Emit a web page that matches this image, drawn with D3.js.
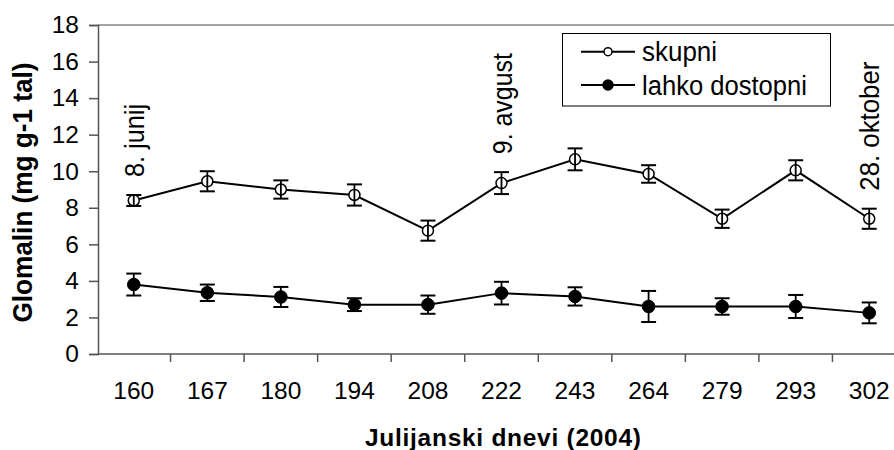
<!DOCTYPE html>
<html>
<head>
<meta charset="utf-8">
<script src="https://cdn.jsdelivr.net/npm/d3@7/dist/d3.min.js"></script>
<style>
  html, body { margin: 0; padding: 0; background: #fff; }
  svg { display: block; }
  text { font-family: "Liberation Sans", Arial, sans-serif; }
</style>
</head>
<body>
<svg id="chart" width="894" height="450"></svg>
<script>
const categories = ["160","167","180","194","208","222","243","264","279","293","302"];
const skupni     = [8.4, 9.45, 9.0, 8.7, 6.75, 9.35, 10.65, 9.85, 7.4, 10.05, 7.4];
const skupniErr  = [0.3, 0.55, 0.5, 0.58, 0.55, 0.6, 0.6, 0.48, 0.5, 0.55, 0.55];
const lahko      = [3.8, 3.35, 3.12, 2.7, 2.7, 3.33, 3.15, 2.6, 2.6, 2.6, 2.25];
const lahkoErr   = [0.6, 0.45, 0.55, 0.35, 0.5, 0.62, 0.5, 0.85, 0.45, 0.63, 0.57];
const yTicks     = [0, 2, 4, 6, 8, 10, 12, 14, 16, 18];
const annotIdx   = [0, 5, 10];
const annotText  = ["8. junij", "9. avgust", "28. oktober"];
const seriesNames = ["skupni", "lahko dostopni"];
const yTitle = "Glomalin (mg g-1 tal)";
const xTitle = "Julijanski dnevi (2004)";

(function () {
const FONT = "'Liberation Sans', Arial, sans-serif";
const svg = d3.select("#chart");
const mLeft = 98, mTop = 25, mBottom = 354;

const x = d3.scaleBand().domain(categories).range([97, 906]).padding(0);
const y = d3.scaleLinear().domain([0, 18]).range([mBottom, mTop]);
const cx = c => x(c) + x.bandwidth() / 2;

// helper: fit text to a target length measured on the reference
function fit(sel, len, adjust) {
  sel.attr("textLength", len).attr("lengthAdjust", adjust || "spacingAndGlyphs");
  return sel;
}

// top border of plot area
svg.append("line").attr("x1", mLeft).attr("x2", 894).attr("y1", y(18)).attr("y2", y(18))
  .attr("stroke", "#888").attr("stroke-width", 1.5);

// Y axis
const yAxis = svg.append("g").attr("transform", `translate(${mLeft},0)`)
  .call(d3.axisLeft(y).tickValues(yTicks).tickSize(9).tickPadding(10).tickFormat(d3.format("d")));
yAxis.attr("font-family", FONT);
yAxis.select(".domain").attr("stroke", "#555").attr("stroke-width", 1.5);
yAxis.selectAll(".tick line").attr("stroke", "#555").attr("stroke-width", 1.5);
yAxis.selectAll(".tick text").attr("font-size", 24.5).attr("fill", "#000");

// X axis
const xAxis = svg.append("g").attr("transform", `translate(0,${mBottom})`)
  .call(d3.axisBottom(x).tickSize(0).tickPadding(28));
xAxis.attr("font-family", FONT);
xAxis.select(".domain").remove();
svg.append("line").attr("x1", mLeft).attr("x2", 894).attr("y1", mBottom).attr("y2", mBottom)
  .attr("stroke", "#555").attr("stroke-width", 1.5);
xAxis.selectAll(".tick text").attr("font-size", 24.5).attr("fill", "#000").attr("dy", "0.71em");
// tick marks at category boundaries
svg.append("g").selectAll("line").data(categories.slice(1)).join("line")
  .attr("x1", d => x(d)).attr("x2", d => x(d))
  .attr("y1", mBottom).attr("y2", mBottom + 8)
  .attr("stroke", "#555").attr("stroke-width", 1.5);

// Axis titles
fit(svg.append("text").attr("transform", `translate(32,${(mTop + mBottom) / 2 + 3}) rotate(-90)`)
  .attr("text-anchor", "middle").attr("font-weight", "bold").attr("font-size", 27)
  .attr("font-family", FONT)
  .text(yTitle), 260);
fit(svg.append("text").attr("x", 503).attr("y", 446)
  .attr("text-anchor", "middle").attr("font-weight", "bold").attr("font-size", 24.5)
  .attr("font-family", FONT)
  .text(xTitle), 276, "spacing");

function drawSeries(vals, errs, filled) {
  const data = categories.map((c, i) => ({c, v: vals[i], e: errs[i]}));
  const g = svg.append("g");
  g.append("path").datum(data)
    .attr("d", d3.line().x(d => cx(d.c)).y(d => y(d.v)))
    .attr("fill", "none").attr("stroke", "#000").attr("stroke-width", 2);
  g.selectAll("circle").data(data).join("circle")
    .attr("cx", d => cx(d.c)).attr("cy", d => y(d.v))
    .attr("r", filled ? 6.3 : 5.5)
    .attr("fill", filled ? "#000" : "#fff")
    .attr("stroke", "#000").attr("stroke-width", filled ? 1 : 1.5);
  const eb = g.selectAll("g.eb").data(data).join("g").attr("class", "eb");
  eb.append("line").attr("x1", d => cx(d.c)).attr("x2", d => cx(d.c))
    .attr("y1", d => y(d.v - d.e)).attr("y2", d => y(d.v + d.e))
    .attr("stroke", "#000").attr("stroke-width", 1.8);
  [-1, 1].forEach(s => {
    eb.append("line").attr("x1", d => cx(d.c) - 7.5).attr("x2", d => cx(d.c) + 7.5)
      .attr("y1", d => y(d.v + s * d.e)).attr("y2", d => y(d.v + s * d.e))
      .attr("stroke", "#000").attr("stroke-width", 2);
  });
}
drawSeries(skupni, skupniErr, false);
drawSeries(lahko, lahkoErr, true);

// annotations (lengths measured on the reference)
const annotLen = [73, 101, 129];
annotIdx.forEach((idx, k) => {
  const c = categories[idx];
  fit(svg.append("text")
    .attr("transform", `translate(${cx(c) + 10},${y(skupni[idx] + skupniErr[idx]) - 18}) rotate(-90)`)
    .attr("font-size", 27).attr("text-anchor", "start").attr("font-family", FONT)
    .text(annotText[k]), annotLen[k]);
});

// legend
const lg = svg.append("g");
lg.append("rect").attr("x", 562.5).attr("y", 33.5).attr("width", 268).attr("height", 72.5)
  .attr("fill", "#fff").attr("stroke", "#000").attr("stroke-width", 1);
const rows = [{name: seriesNames[0], filled: false, y: 51.7, len: 75},
              {name: seriesNames[1], filled: true, y: 85, len: 165}];
rows.forEach(r => {
  lg.append("line").attr("x1", 581).attr("x2", 635).attr("y1", r.y).attr("y2", r.y)
    .attr("stroke", "#000").attr("stroke-width", 2);
  lg.append("circle").attr("cx", 608).attr("cy", r.y).attr("r", r.filled ? 5 : 4)
    .attr("fill", r.filled ? "#000" : "#fff").attr("stroke", "#000").attr("stroke-width", 1.5);
  fit(lg.append("text").attr("x", 642).attr("y", r.y + 9.5).attr("font-size", 27)
    .attr("font-family", FONT).text(r.name), r.len);
});
})();
</script>
</body>
</html>
